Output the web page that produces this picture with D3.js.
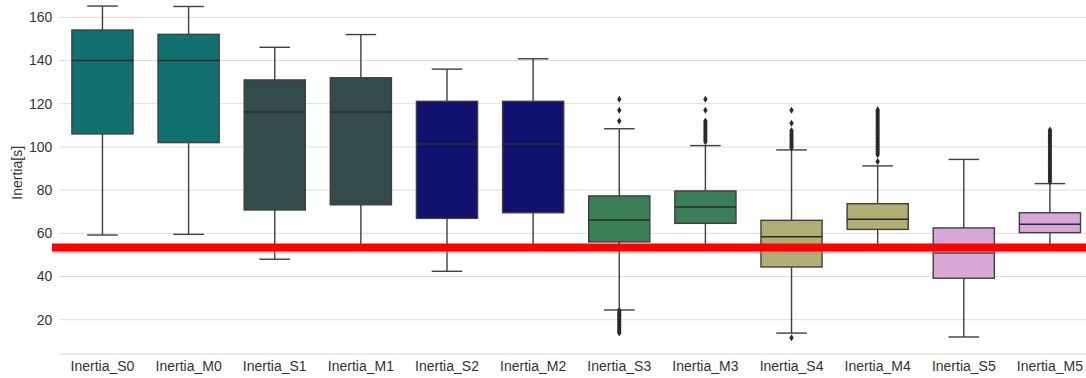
<!DOCTYPE html>
<html>
<head>
<meta charset="utf-8">
<script src="https://cdn.jsdelivr.net/npm/d3@7"></script>
<style>
  html, body { margin: 0; padding: 0; background: #fff; }
  svg { display: block; font-family: "Liberation Sans", Arial, sans-serif; }
</style>
</head>
<body>
<svg id="chart" width="1086" height="378"></svg>
<script>
// ---- data ----
const categories = ["Inertia_S0","Inertia_M0","Inertia_S1","Inertia_M1","Inertia_S2","Inertia_M2",
                    "Inertia_S3","Inertia_M3","Inertia_S4","Inertia_M4","Inertia_S5","Inertia_M5"];
const whiskerLow  = [59.2, 59.5, 48.0, 53.5, 42.4, 53.5, 24.5, 53.5, 13.8, 53.5, 12.0, 53.5];
const q1          = [106.0, 102.0, 70.8, 73.2, 66.9, 69.5, 56.0, 64.6, 44.4, 61.8, 39.2, 60.3];
const medians     = [140.0, 140.0, 116.2, 116.2, 101.3, 101.3, 66.2, 72.2, 58.4, 66.5, 50.9, 64.2];
const q3          = [154.1, 152.1, 131.0, 132.0, 121.1, 121.1, 77.3, 79.6, 66.0, 73.7, 62.5, 69.5];
const whiskerHigh = [165.2, 165.0, 146.1, 152.0, 136.0, 140.8, 108.4, 100.6, 98.6, 91.2, 94.2, 83.0];
const boxColors   = ["#137070","#137070","#344b4b","#344b4b","#11116f","#11116f",
                     "#3a7e57","#3a7e57","#b2ad74","#b2ad74","#d7a7d6","#d7a7d6"];
const outliersS3 = [122, 117, 112, 24.2, 23.5, 22.8, 22.1, 21.4, 20.7, 20.0, 19.3, 18.6, 17.9, 17.2, 16.5, 15.8, 15.1, 14.4, 13.8];
const outliersM3 = [122, 117, 112, 111.2, 110.4, 109.6, 108.8, 108.0, 107.2, 106.4, 105.6, 104.8, 104.0, 103.2, 102.4];
const outliersS4 = [117, 111, 107.6, 106.8, 106.0, 105.2, 104.4, 103.6, 102.8, 102.0, 101.2, 100.4, 99.6, 11.7];
const outliersM4 = [117.2, 116.4, 115.6, 114.8, 114.0, 113.2, 112.4, 111.6, 110.8, 110.0, 109.2, 108.4, 107.6,
                    106.8, 106.0, 105.2, 104.4, 103.6, 102.8, 102.0, 101.2, 100.4, 99.6, 98.8, 98.0, 97.2, 96.4, 93.2];
const outliersM5 = [107.8, 107.0, 106.2, 105.4, 104.6, 103.8, 103.0, 102.2, 101.4, 100.6, 99.8, 99.0, 98.2, 97.4,
                    96.6, 95.8, 95.0, 94.2, 93.4, 92.6, 91.8, 91.0, 90.2, 89.4, 88.6, 87.8, 87.0, 86.2, 85.4, 84.6, 83.9];
const outlierSets = [
  {cat: "Inertia_S3", values: outliersS3},
  {cat: "Inertia_M3", values: outliersM3},
  {cat: "Inertia_S4", values: outliersS4},
  {cat: "Inertia_M4", values: outliersM4},
  {cat: "Inertia_M5", values: outliersM5}
];
const yTicks = [20, 40, 60, 80, 100, 120, 140, 160];
const thresholdValue = 53.4;
const yLabel = "Inertia[s]";

// ---- layout ----
const svg = d3.select("#chart");
const plotLeft = 59.4, plotRight = 1093, plotTop = 0, plotBottom = 354;

const x = d3.scaleBand().domain(categories).range([plotLeft, plotRight]).padding(0);
const y = d3.scaleLinear().domain([4.12, 168]).range([plotBottom, plotTop]);

const boxW = x.bandwidth() * 0.71;
const capW = boxW / 2;
const edge = "#3f3f3f";

// grid
svg.append("g").selectAll("line").data(yTicks).join("line")
  .attr("x1", plotLeft).attr("x2", 1086)
  .attr("y1", d => y(d)).attr("y2", d => y(d))
  .attr("stroke", "#dedede").attr("stroke-width", 1);
// bottom spine
svg.append("line").attr("x1", plotLeft).attr("x2", 1086)
  .attr("y1", plotBottom).attr("y2", plotBottom)
  .attr("stroke", "#d6d6d6").attr("stroke-width", 1.2);

// y axis
const yAxis = d3.axisLeft(y).tickValues(yTicks).tickSize(0).tickPadding(0);
const gy = svg.append("g").attr("transform", `translate(${plotLeft - 7},0)`).call(yAxis);
gy.select(".domain").remove();
gy.selectAll("text").attr("fill", "#333").style("font-size", "14px")
  .style("font-family", "'Liberation Sans', Arial, sans-serif");

// x axis
const xAxis = d3.axisBottom(x).tickSize(0).tickPadding(0);
const gx = svg.append("g").attr("transform", `translate(0,${plotBottom + 7})`).call(xAxis);
gx.select(".domain").remove();
gx.selectAll("text").attr("fill", "#333").style("font-size", "14px")
  .style("font-family", "'Liberation Sans', Arial, sans-serif");

// y label
svg.append("text")
  .attr("transform", `translate(22,${y(88)}) rotate(-90)`)
  .attr("text-anchor", "middle")
  .attr("fill", "#333").style("font-size", "14px")
  .text(yLabel);

// boxes
const boxes = svg.append("g").selectAll("g").data(categories).join("g")
  .attr("transform", d => `translate(${x(d) + x.bandwidth() / 2},0)`);

boxes.append("line") // lower whisker
  .attr("x1", 0).attr("x2", 0)
  .attr("y1", (d, i) => y(q1[i])).attr("y2", (d, i) => y(whiskerLow[i]))
  .attr("stroke", edge).attr("stroke-width", 1.4);
boxes.append("line") // upper whisker
  .attr("x1", 0).attr("x2", 0)
  .attr("y1", (d, i) => y(q3[i])).attr("y2", (d, i) => y(whiskerHigh[i]))
  .attr("stroke", edge).attr("stroke-width", 1.4);
boxes.append("line")
  .attr("x1", -capW / 2).attr("x2", capW / 2)
  .attr("y1", (d, i) => y(whiskerLow[i])).attr("y2", (d, i) => y(whiskerLow[i]))
  .attr("stroke", edge).attr("stroke-width", 1.4);
boxes.append("line")
  .attr("x1", -capW / 2).attr("x2", capW / 2)
  .attr("y1", (d, i) => y(whiskerHigh[i])).attr("y2", (d, i) => y(whiskerHigh[i]))
  .attr("stroke", edge).attr("stroke-width", 1.4);
boxes.append("rect")
  .attr("x", -boxW / 2).attr("width", boxW)
  .attr("y", (d, i) => y(q3[i]))
  .attr("height", (d, i) => y(q1[i]) - y(q3[i]))
  .attr("fill", (d, i) => boxColors[i])
  .attr("stroke", edge).attr("stroke-width", 1.4);
boxes.append("line")
  .attr("x1", -boxW / 2).attr("x2", boxW / 2)
  .attr("y1", (d, i) => y(medians[i])).attr("y2", (d, i) => y(medians[i]))
  .attr("stroke", "#2b2b2b").attr("stroke-width", 1.5);

// outliers (diamonds)
const diamond = "M0,-3.5 L2.2,0 L0,3.5 L-2.2,0 Z";
const og = svg.append("g");
outlierSets.forEach(s => {
  og.append("g").selectAll("path").data(s.values).join("path")
    .attr("d", diamond)
    .attr("transform", v => `translate(${x(s.cat) + x.bandwidth() / 2},${y(v)})`)
    .attr("fill", "#2a2a2a");
});

// threshold line with shadow
svg.append("line")
  .attr("x1", 53).attr("x2", 1086)
  .attr("y1", y(thresholdValue) + 2).attr("y2", y(thresholdValue) + 2)
  .attr("stroke", "#999").attr("stroke-opacity", 0.45).attr("stroke-width", 8);
svg.append("line")
  .attr("x1", 52).attr("x2", 1086)
  .attr("y1", y(thresholdValue)).attr("y2", y(thresholdValue))
  .attr("stroke", "#ff0000").attr("stroke-width", 8);
</script>
</body>
</html>
